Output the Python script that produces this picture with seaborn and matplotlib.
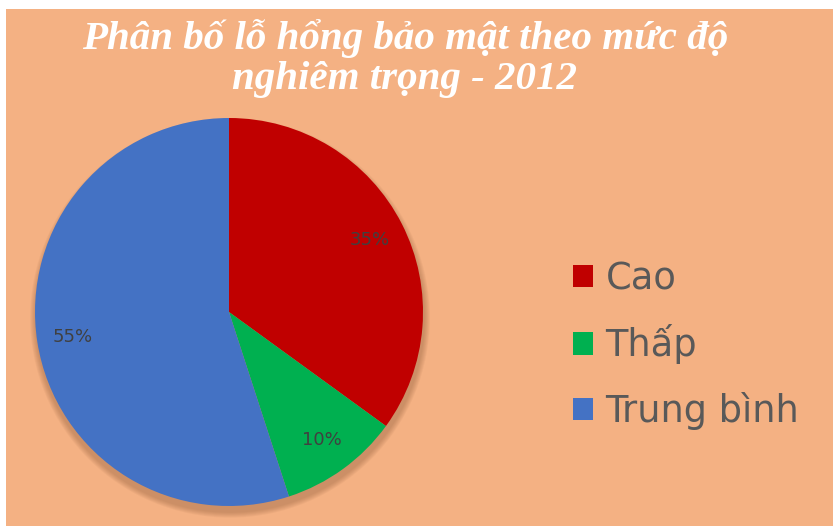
import matplotlib
matplotlib.use("Agg")
import matplotlib.pyplot as plt
import seaborn as sns
from matplotlib.patches import Circle, Patch

# du lieu
muc_do = ["Cao", "Thấp", "Trung bình"]
ty_le = [35, 10, 55]
mau = ["#C00000", "#00B050", "#4472C4"]
tieu_de = "Phân bố lỗ hổng bảo mật theo mức độ\nnghiêm trọng - 2012"

sns.set_style("white")
plt.rcParams["font.family"] = ["DejaVu Sans"]

W, H = 833, 526
fig = plt.figure(figsize=(W / 100, H / 100), dpi=100)
fig.patch.set_facecolor("white")

# nen cam (truc nen rieng, nam duoi cung)
bg = fig.add_axes([6 / W, 0, 1 - 6 / W, 1 - 9 / H], zorder=-10)
bg.set_facecolor("#F4B183")
bg.set_xticks([])
bg.set_yticks([])
for s in bg.spines.values():
    s.set_visible(False)

# truc cho hinh tron: tam (229, 312) px, ban kinh 194 px
cx, cy, r = 229, 312, 194
ax = fig.add_axes([(cx - r) / W, (H - cy - r) / H, 2 * r / W, 2 * r / H])
ax.set_facecolor("none")

# bong do mo phia duoi
for i in range(6):
    ax.add_patch(Circle((0.005, -0.03), 1.0 + 0.005 * (6 - i), facecolor="#7a4a2a",
                        alpha=0.06, edgecolor="none", zorder=0, clip_on=False))

palette = sns.color_palette(mau)
wedges, texts, autotexts = ax.pie(
    ty_le, colors=palette, startangle=90, counterclock=False,
    autopct="%1.0f%%", pctdistance=0.815, radius=1.0,
    wedgeprops=dict(linewidth=0),
    textprops=dict(color="#404040", fontsize=13),
)
for w in wedges:
    w.set_zorder(2)
for t in autotexts:
    t.set_zorder(3)
ax.set_xlim(-1, 1)
ax.set_ylim(-1, 1)
ax.axis("off")

fig.text(405 / W, 1 - 89 / H, tieu_de, ha="center", va="baseline", color="white",
         fontsize=29.5, fontweight="bold", fontstyle="italic", family="Liberation Serif",
         linespacing=1.1)

handles = [Patch(facecolor=c, edgecolor="none") for c in palette]
fig.legend(handles, muc_do, loc="center left", bbox_to_anchor=(573 / W, 1 - 345 / H),
           frameon=False, fontsize=26.5, labelcolor="#595959", handlelength=0.55,
           handleheight=0.55, handletextpad=0.33, labelspacing=0.74,
           borderpad=0, borderaxespad=0)

fig.savefig("out.png", dpi=100, facecolor=fig.get_facecolor())
